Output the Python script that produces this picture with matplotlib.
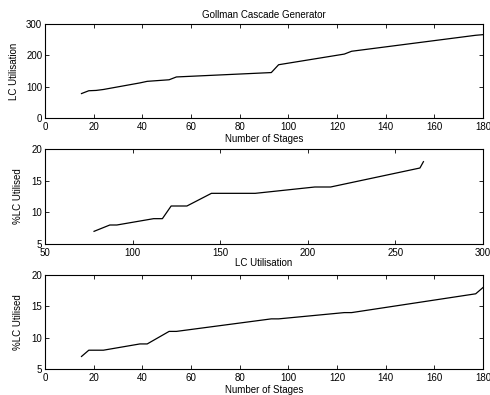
import matplotlib
matplotlib.use("Agg")
import matplotlib.pyplot as plt

# data
stages = [15, 18, 21, 24, 39, 42, 51, 54, 93, 96, 123, 126, 177, 180]
lc_util = [78, 87, 88, 91, 112, 117, 122, 131, 145, 170, 204, 213, 264, 266]
pct_lc = [7, 8, 8, 8, 9, 9, 11, 11, 13, 13, 14, 14, 17, 18]

plt.rcParams['font.family'] = ['Liberation Sans', 'DejaVu Sans']
plt.rcParams['font.size'] = 7

fig = plt.figure(figsize=(4.9, 3.95), dpi=100)
W, H = 490.0, 395.0

def make_axes(left, top, right, bottom):
    return fig.add_axes([left / W, 1 - bottom / H, (right - left) / W, (bottom - top) / H])

def style(ax):
    ax.tick_params(direction='in', top=True, right=True, length=3, width=0.6, labelsize=7)
    ax.tick_params(axis='x', pad=3)
    ax.tick_params(axis='y', pad=2)
    for s in ax.spines.values():
        s.set_linewidth(0.8)

ax1 = make_axes(45, 24, 483, 118)
ax1.plot(stages, lc_util, color='black', lw=0.9)
ax1.set_xlim(0, 180)
ax1.set_ylim(0, 300)
ax1.set_xticks(range(0, 181, 20))
ax1.set_yticks([0, 100, 200, 300])
ax1.set_title('Gollman Cascade Generator', fontsize=7, pad=4)
ax1.set_xlabel('Number of Stages', labelpad=1)
ax1.set_ylabel('LC Utilisation', labelpad=5)
style(ax1)

ax2 = make_axes(45, 149, 483, 244)
ax2.plot(lc_util, pct_lc, color='black', lw=0.9)
ax2.set_xlim(50, 300)
ax2.set_ylim(5, 20)
ax2.set_xticks(range(50, 301, 50))
ax2.set_yticks([5, 10, 15, 20])
ax2.set_xlabel('LC Utilisation', labelpad=0)
ax2.set_ylabel('%LC Utilised', labelpad=6)
style(ax2)

ax3 = make_axes(45, 275, 483, 369)
ax3.plot(stages, pct_lc, color='black', lw=0.9)
ax3.set_xlim(0, 180)
ax3.set_ylim(5, 20)
ax3.set_xticks(range(0, 181, 20))
ax3.set_yticks([5, 10, 15, 20])
ax3.set_xlabel('Number of Stages', labelpad=1)
ax3.set_ylabel('%LC Utilised', labelpad=6)
style(ax3)

fig.savefig('out.png', dpi=100)
